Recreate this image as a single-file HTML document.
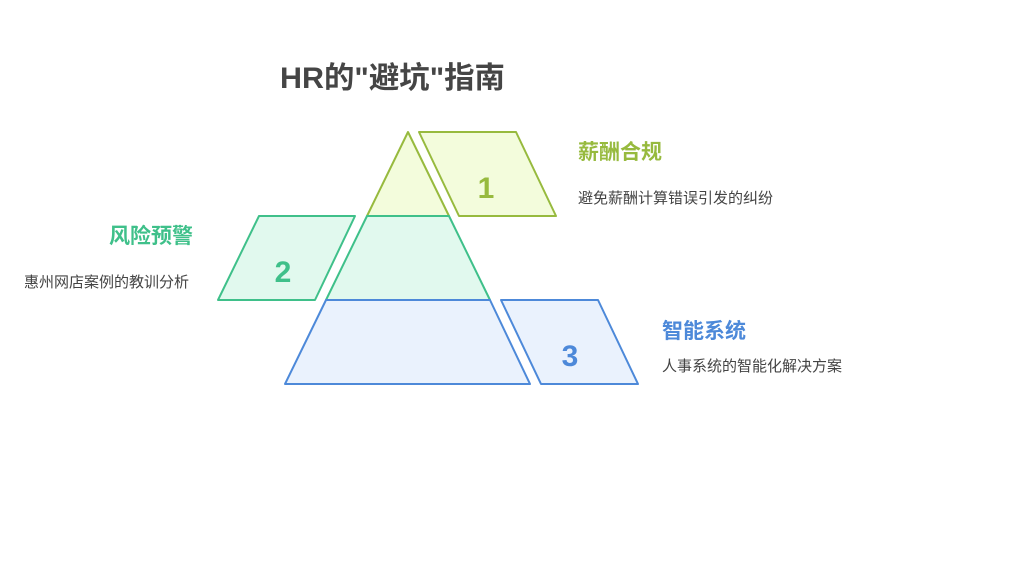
<!DOCTYPE html>
<html><head><meta charset="utf-8"><style>
body{margin:0;background:#fff;}
svg{display:block;}
text{font-family:"Liberation Sans","Noto Sans CJK SC",sans-serif;}
</style></head><body>
<svg width="1024" height="576" viewBox="0 0 1024 576" xmlns="http://www.w3.org/2000/svg">
<rect width="1024" height="576" fill="#fff"/>
<text x="280" y="88" font-size="30" font-weight="bold" fill="#454545" textLength="225" lengthAdjust="spacingAndGlyphs">HR的"避坑"指南</text>
<polygon points="408,132 449,216 367,216" fill="#f3fcdc" stroke="#97ba3e" stroke-width="2" stroke-linejoin="round"/>
<polygon points="367,216 449,216 490,300 326,300" fill="#e1f9ee" stroke="#3fc08a" stroke-width="2" stroke-linejoin="round"/>
<polygon points="326,300 490,300 530,384 285,384" fill="#eaf2fd" stroke="#4d89d9" stroke-width="2" stroke-linejoin="round"/>
<polygon points="419,132 516,132 556,216 459,216" fill="#f3fcdc" stroke="#97ba3e" stroke-width="2" stroke-linejoin="round"/>
<polygon points="259,216 355,216 315,300 218,300" fill="#e1f9ee" stroke="#3fc08a" stroke-width="2" stroke-linejoin="round"/>
<polygon points="501,300 598,300 638,384 541,384" fill="#eaf2fd" stroke="#4d89d9" stroke-width="2" stroke-linejoin="round"/>
<text x="486" y="198" font-size="30" font-weight="bold" fill="#97ba3e" text-anchor="middle">1</text>
<text x="283" y="282" font-size="30" font-weight="bold" fill="#3fc08a" text-anchor="middle">2</text>
<text x="570" y="366" font-size="30" font-weight="bold" fill="#4d89d9" text-anchor="middle">3</text>
<text x="578" y="159" font-size="21" font-weight="bold" fill="#97ba3e">薪酬合规</text>
<text x="578" y="203" font-size="15" fill="#444">避免薪酬计算错误引发的纠纷</text>
<text x="193" y="243" font-size="21" font-weight="bold" fill="#3fc08a" text-anchor="end">风险预警</text>
<text x="189" y="287" font-size="15" fill="#444" text-anchor="end">惠州网店案例的教训分析</text>
<text x="662" y="338" font-size="21" font-weight="bold" fill="#4d89d9">智能系统</text>
<text x="662" y="371" font-size="15" fill="#444">人事系统的智能化解决方案</text>
</svg>
</body></html>
